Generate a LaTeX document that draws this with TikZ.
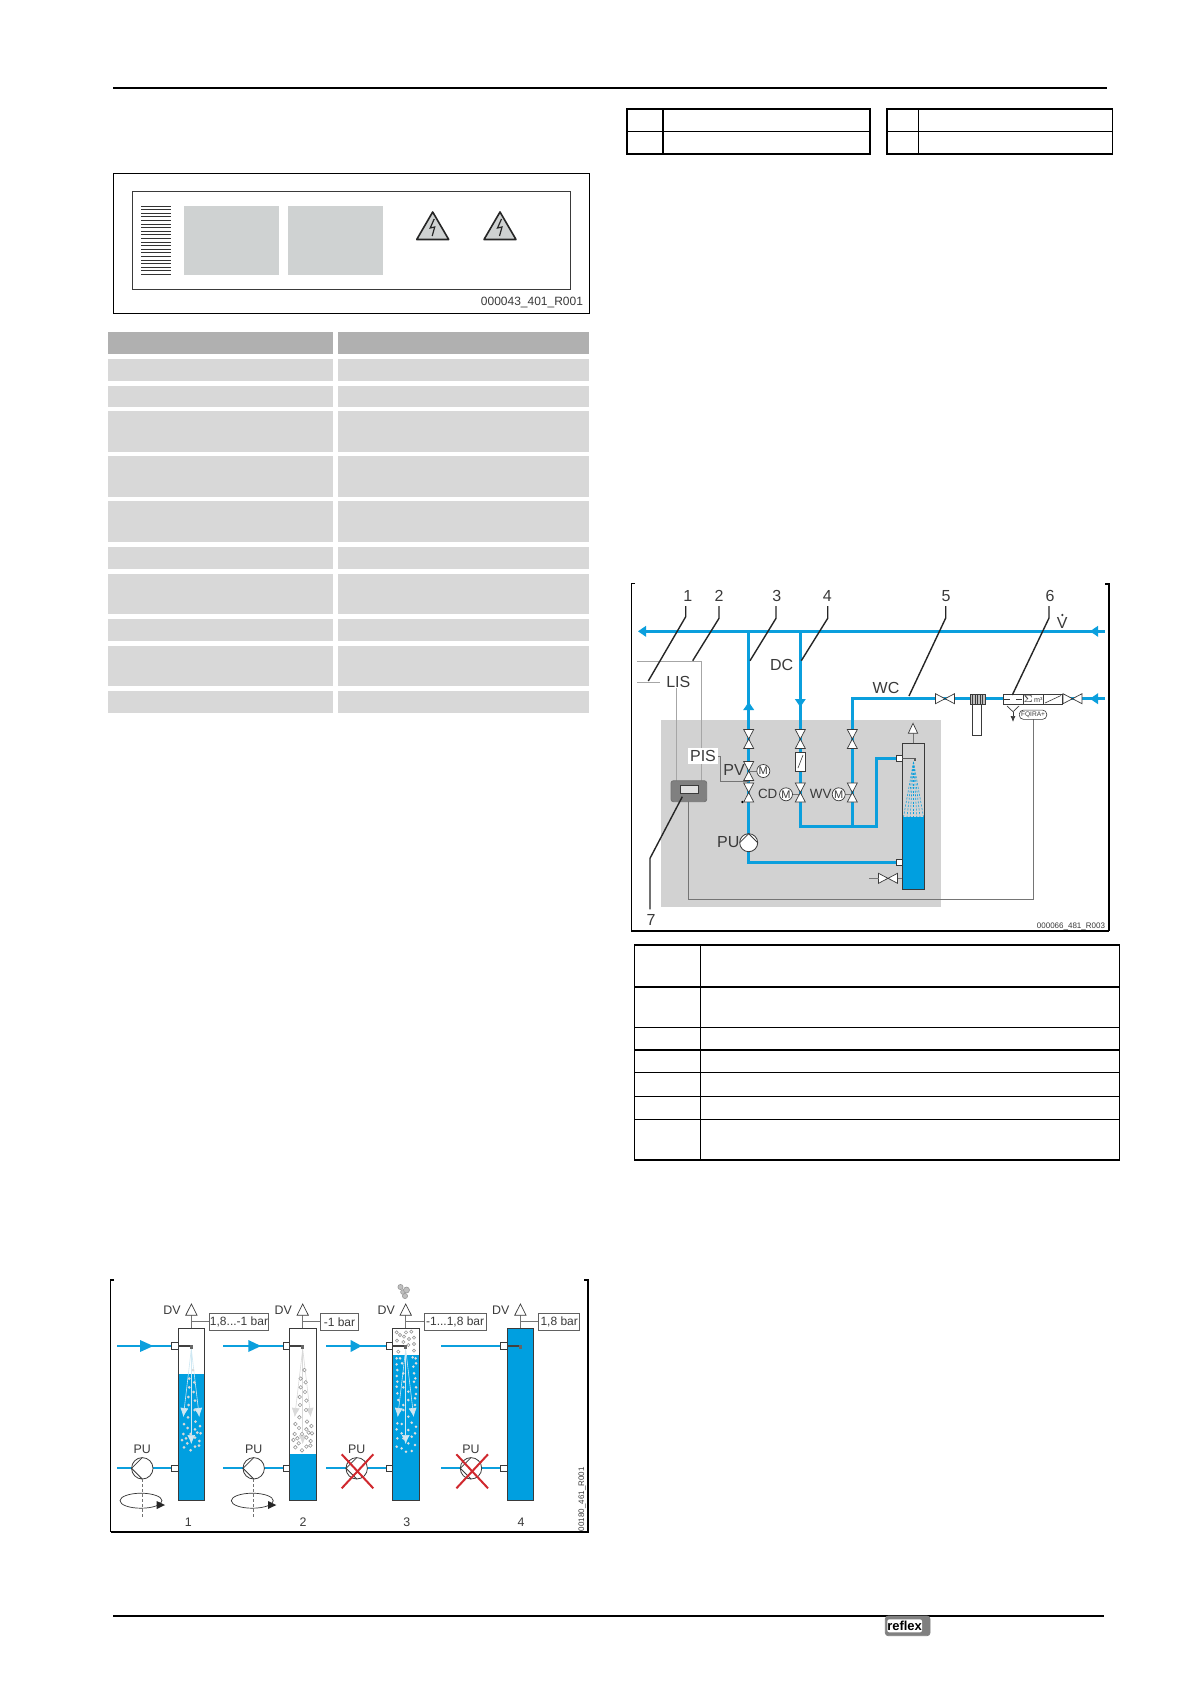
\documentclass[tikz,border=0pt]{standalone}
\usepackage{fontspec}
\setmainfont{Liberation Sans}
\usetikzlibrary{arrows.meta}
\definecolor{pipeblue}{HTML}{0B9FDD}
\definecolor{tankblue}{HTML}{009FE0}
\definecolor{labelgrey}{HTML}{CFD2D2}
\definecolor{rowgrey}{HTML}{D8D8D8}
\definecolor{headgrey}{HTML}{B0B0B0}
\definecolor{unitgrey}{HTML}{D2D2D2}
\definecolor{inkgrey}{HTML}{3A3A3A}
\definecolor{crossred}{HTML}{D0282E}
\definecolor{sprayline}{HTML}{CFE8F3}
\tikzset{
  pipe/.style={pipeblue,line width=1.5pt},
  thinpipe/.style={pipeblue,line width=1.1pt},
  signal/.style={inkgrey!70,line width=0.45pt},
  paleline/.style={black!35,line width=0.4pt},
  leader/.style={black!85,line width=0.7pt},
  frameline/.style={black,line width=0.6pt},
  frameheavy/.style={black,line width=0.9pt},
  tblthick/.style={black,line width=0.9pt},
  tblthin/.style={black,line width=0.5pt},
  fig/.style={inner sep=0pt,outer sep=0pt,text=inkgrey,font=\fontsize{8}{9}\selectfont},
  small/.style={fig,font=\fontsize{6.2}{7}\selectfont},
  partno/.style={fig,font=\fontsize{4}{5}\selectfont},
  pressbox/.style={draw=inkgrey!80,line width=0.4pt,fill=white,inner sep=0pt,minimum height=8.5pt,font=\fontsize{6}{7}\selectfont,text=inkgrey},
  vvalve/.pic={\draw[inkgrey,line width=0.35pt,fill=white] (-5,-9.5) -- (5,-9.5) -- (-5,9.5) -- (5,9.5) -- cycle;},
  hvalve/.pic={\draw[inkgrey,line width=0.35pt,fill=white] (-9.5,-5) -- (-9.5,5) -- (9.5,-5) -- (9.5,5) -- cycle;},
  bluehead/.pic={\fill[pipeblue] (0,0) -- (8,-5.5) -- (8,5.5) -- cycle;},
  pumpsym/.pic={\draw[inkgrey,line width=0.4pt,fill=white] (0,0) circle (\pumpr);
    \draw[inkgrey,line width=0.4pt] (0,-\pumpr) -- (-\pumpr,0) -- (0,\pumpr);},
  motor/.pic={\draw[inkgrey,line width=0.35pt,fill=white] (0,0) circle (6.5);
    \node[fig,font=\fontsize{5.5}{6}\selectfont] (mlabel) at (0,0) {M};},
}
\newcommand{\pumpr}{9}
\begin{document}
\begin{tikzpicture}[x=0.5pt,y=-0.5pt]
  \useasboundingbox (0,0) rectangle (1191,1685);
  \fill[white] (0,0) rectangle (1191,1685);
  % page rules
  \draw[black,line width=1pt] (113,87.7) -- (1106.7,87.7);
  \draw[black,line width=1pt] (113.3,1615.7) -- (1104,1615.7);
  % rating plate
  \draw[black,line width=0.5pt] (113.5,173.3) rectangle (589,313);
  \draw[inkgrey,line width=0.5pt] (132,192) rectangle (570,289);
  \foreach \y in {206,209.6,...,277.5} \draw[black!80,line width=0.45pt] (141,\y) -- (171,\y);
  \fill[labelgrey] (184,206) rectangle (278.5,275);
  \fill[labelgrey] (288,206) rectangle (383,275);
  \foreach \x in {432.7,500} {
    \draw[black!85,line width=0.8pt,fill=labelgrey,line join=round] (\x,212) -- (\x+16,239.5) -- (\x-16,239.5) -- cycle;
    \draw[black!85,line width=0.6pt] (\x+1.5,219) -- (\x-2.5,228) -- (\x+2,227) -- (\x-0.5,236);
  }
  \node[fig,font=\fontsize{6}{7}\selectfont,anchor=east] (plateno) at (583,302.5) {000043\_401\_R001};
  % grey table
  \foreach \t/\b [count=\i] in {359/381,386/407,411/452,456/497,501/542,547/569,574/614,619/641,646/686,691/713} {
    \fill[rowgrey] (108,\t) rectangle (333,\b);
    \fill[rowgrey] (338,\t) rectangle (589,\b);
  }
  \fill[headgrey] (108,332) rectangle (333,353.7);
  \fill[headgrey] (338,332) rectangle (589,353.7);
  % two small tables
  \draw[black,line width=0.8pt] (626.7,109) rectangle (870,154);
  \draw[tblthin] (626.7,131.3) -- (870,131.3);
  \draw[black,line width=0.8pt] (663,109) -- (663,154);
  \draw[black,line width=0.8pt] (886.7,109) rectangle (1112.3,154);
  \draw[tblthin] (886.7,131.3) -- (1112.3,131.3);
  \draw[tblthin] (918.3,109) -- (918.3,154);
  % schematic
  \fill[unitgrey] (660.7,719.7) rectangle (940.7,907);
  \draw[frameline] (635,583.7) -- (631.7,583.7) -- (631.7,931) -- (1109,931);
  \draw[frameheavy] (1109,931) -- (1109,583.7) -- (1105,583.7);
  % pipes
  \draw[pipe] (640,631.3) -- (1105,631.3);
  \draw[pipe] (748.7,631.3) -- (748.7,862.7) -- (897,862.7);
  \draw[pipe] (800.3,631.3) -- (800.3,826.7) -- (876.7,826.7) -- (876.7,758.3) -- (897,758.3);
  \draw[pipe] (852.3,826.7) -- (852.3,698.7) -- (1105,698.7);
  \pic at (638,631.3) {bluehead};
  \pic at (1090,631.3) {bluehead};
  \pic at (1090,698.7) {bluehead};
  \pic[rotate=-90] at (748.7,702) {bluehead};
  \pic[rotate=90] at (800.3,707) {bluehead};
  % signal lines
  \draw[paleline] (637.3,661) -- (701.3,661) -- (701.3,781);
  \draw[paleline] (637.3,682.3) -- (660,682.3);
  \draw[paleline] (676.7,688) -- (676.7,781);
  \draw[signal] (716.7,756) -- (720.3,756) -- (720.3,781.3) -- (748.7,781.3);
  \draw[signal] (1033.3,719) -- (1033.3,899.3) -- (688.7,899.3) -- (688.7,801);
  \draw[signal] (750,771) -- (763,771);
  \draw[signal] (786,794.3) -- (800,794.3);
  \draw[signal] (838.7,794.3) -- (852,794.3);
  % valves
  \foreach \x in {748.7,800.3,852.3} \pic at (\x,739) {vvalve};
  \foreach \x in {748.7,800.3,852.3} \pic at (\x,792.5) {vvalve};
  \pic at (748.7,771) {vvalve};
  \pic at (945,698.7) {hvalve};
  \pic at (1072.5,698.7) {hvalve};
  \pic at (888,878.3) {hvalve};
  \draw[signal] (869.3,878.3) -- (878.5,878.3);
  \draw[signal] (897.5,878.3) -- (902.3,878.3);
  \fill[black] (742.3,802) circle (1.3);
  \pic at (763.3,771) {motor};
  \pic at (786,794.3) {motor};
  \pic at (838.7,794.3) {motor};
  \draw[inkgrey,line width=0.35pt,fill=white] (795.7,752) rectangle (805.7,771);
  \draw[inkgrey,line width=0.3pt] (798,768) -- (803,755);
  \pic[rotate=-90] at (748.7,842.7) {pumpsym};
  % controller
  \draw[black!55,line width=0.4pt,fill=black!50,rounded corners=1.2pt] (671,780.7) rectangle (706.7,801.7);
  \draw[inkgrey,line width=0.5pt,fill=black!12] (680,785) rectangle (698.3,793.3);
  % tank
  \fill[tankblue] (902.3,817.3) rectangle (924.3,889.3);
  \draw[inkgrey,line width=0.4pt] (902.3,743.3) rectangle (924.3,889.3);
  \foreach \dx in {-10,-6.5,-3.3,0,3.3,6.5,10}
    \draw[pipeblue,line width=0.3pt,dash pattern=on 1pt off 0.8pt] (913.5,762) -- (913.5+\dx,817);
  \draw[inkgrey,line width=0.4pt,fill=white] (896.7,755.7) rectangle (902.3,761);
  \draw[inkgrey,line width=0.4pt,fill=white] (896.7,859.7) rectangle (902.3,865.7);
  \draw[black!65,line width=0.6pt] (902.3,758.7) -- (915,758.7) -- (915,761);
  \draw[signal] (913,743.3) -- (913,733.3);
  \draw[inkgrey,line width=0.35pt,fill=white] (913,723.3) -- (917.7,733.3) -- (908.3,733.3) -- cycle;
  % filter and make-up group
  \draw[inkgrey,line width=0.35pt,fill=white] (972.7,704) rectangle (981.7,735);
  \draw[inkgrey,line width=0.35pt,fill=black!25] (970,694.3) rectangle (985,704.3);
  \foreach \x in {972.5,975,...,983} \draw[inkgrey,line width=0.25pt] (\x,694.3) -- (\x,704.3);
  \draw[inkgrey,line width=0.35pt,fill=white] (1003.3,694.3) rectangle (1062.7,704.3);
  \draw[inkgrey,line width=0.35pt] (1023,694.3) -- (1023,704.3);
  \draw[inkgrey,line width=0.35pt] (1043,694.3) -- (1043,704.3);
  \draw[inkgrey,line width=0.3pt,dashed] (1004,699) -- (1023,699);
  \draw[inkgrey,line width=0.3pt] (1045,703) -- (1061,695.5);
  \node[fig,font=\fontsize{3.6}{4}\selectfont] (meter) at (1033,699.3) {$\Sigma$\,m³};
  \draw[inkgrey,line width=0.35pt] (1007,706) -- (1013,711.7) -- (1019,706);
  \draw[inkgrey,line width=0.35pt,-{Latex[length=3pt,width=2.5pt]}] (1013,711.7) -- (1013,722);
  \node[draw=inkgrey,line width=0.3pt,rounded corners=2pt,fill=white,fig,minimum width=13.7pt,minimum height=4.6pt,font=\fontsize{3.3}{4}\selectfont] (fqira) at (1033,714.7) {FQIRA+};
  % labels
  \node[fig,fill=white] (lis) at (678.3,681.7) {LIS};
  \node[fig,fill=white,inner sep=1pt] (pis) at (703,756) {PIS};
  \node[fig] (dc) at (781.7,665) {DC};
  \node[fig] (wc) at (886,687.7) {WC};
  \node[fig] (pv) at (734,770) {PV};
  \node[fig,font=\fontsize{6.7}{8}\selectfont] (cd) at (767.7,794.3) {CD};
  \node[fig,font=\fontsize{6.7}{8}\selectfont] (wv) at (820.7,794.3) {WV};
  \node[fig] (pu) at (728.3,842) {PU};
  \node[fig] (vdot) at (1062.3,622.5) {V};
  \fill[inkgrey] (1062.3,615) circle (1.3);
  \node[partno,anchor=east] (schemno) at (1105,926) {000066\_481\_R003};
  % numbered leaders
  \node[fig] (n1) at (687.7,596) {1};
  \node[fig] (n2) at (719,596) {2};
  \node[fig] (n3) at (776.7,596) {3};
  \node[fig] (n4) at (827.3,596) {4};
  \node[fig] (n5) at (946,596) {5};
  \node[fig] (n6) at (1050,596) {6};
  \node[fig] (n7) at (651,920) {7};
  \draw[leader] (685.7,606) -- (685.7,616.7) -- (648.3,681);
  \draw[leader] (719,606) -- (719,618.3) -- (692.7,660.7);
  \draw[leader] (776,606) -- (776,618.3) -- (750,660.7);
  \draw[leader] (827.7,606) -- (827.7,618.3) -- (801.3,660.7);
  \draw[leader] (945.7,606) -- (945.7,618) -- (909,696);
  \draw[leader] (1049,606) -- (1049,618) -- (1012.3,695);
  \draw[leader] (650,909.3) -- (650,858.3) -- (682.3,796.7);
  % table under the schematic
  \draw[tblthin] (634.3,945) rectangle (1119.7,1160);
  \draw[tblthin] (700,945) -- (700,1160);
  \foreach \y in {945,986.7,1049.7,1160} \draw[tblthick] (634.3,\y) -- (1119.7,\y);
  \foreach \y in {1027,1072,1096,1119} \draw[tblthin] (634.3,\y) -- (1119.7,\y);
  % degassing stages
  \draw[frameline] (114,1280) -- (110.7,1280) -- (110.7,1531.7);
  \draw[frameheavy] (110.7,1531.7) -- (587.7,1531.7) -- (587.7,1280) -- (584,1280);
  \renewcommand{\pumpr}{10.7}
  \fill[tankblue] (178,1374) rectangle (204.7,1500);
  \fill[tankblue] (289.3,1454) rectangle (316,1500);
  \fill[tankblue] (392.3,1355) rectangle (419,1500);
  \fill[tankblue] (507,1328.3) rectangle (533.7,1500);
  % spray cones with bubbles
  \foreach \tx/\col in {191.3/sprayline,302.7/black!15,405.7/sprayline} {
    \foreach \ex/\ey in {-8/1417,8/1417,0/1444}
      \draw[\col,line width=0.3pt,-{Latex[length=4.5pt,width=4pt]}] (\tx,1349) -- (\tx+\ex,\ey);
  }
  \foreach \dx/\dy in {1.7/22.7,-2/31.3,3/35,-2/40,2.3/44.7,-3/49.7,3.7/53.3,-2.7/57.7,3.3/62.7,-3.3/70,4.3/74.3,-7.3/76.7,8.7/78.7,-3.7/80.7,3.7/82,-8/86.7,-.7/86.7,6/85.3,9.3/86,-9.3/92.7,-5.3/91,3.7/90.3,8/93.7,-4/96,3.7/99.3,-7.3/100,-.7/103,7.7/98.3} {
    \fill[black!15] (191.3+\dx,1347.3+\dy) circle (1.5);
    \draw[black!40,line width=0.3pt,fill=white] (302.7+\dx,1347.3+\dy) circle (1.8);
  }
  \foreach \a/\b in {170/187,180/195,198/187,214/185,192/200,207/207,222/203,171/212,190/216,222/222,205/225,175/245,222/242}
    \draw[black!40,line width=0.3pt,fill=white] ({340+\a/3},{1270+\b/3}) circle (1.6);
  \foreach \a/\b in {170/265,180/265,218/262,227/265,170/283,186/280,220/290,228/280,172/300,170/318,190/310,222/310,226/325,172/335,192/335,222/335,170/350,190/352,228/352,172/370,205/365,228/372,225/385,175/390,190/405,205/390,172/418,225/405,222/420,190/420,205/440,172/460,185/462,215/458,228/470,170/478,205/480,185/490,225/490,172/505,190/505,215/500,170/530,185/535,198/545,225/525,215/543,205/520}
    \fill[black!12] ({340+\a/3},{1270+\b/3}) circle (1.4);
  % tanks, inlet and pump pipes
  \foreach \tx/\from/\px/\nx/\dvx/\bl/\br/\btxt [count=\i] in {
      178/117.3/142.3/188.3/172/209.3/268.7/{1,8...-1 bar},
      289.3/223.3/253.7/303/283.3/320.7/358.3/{-1 bar},
      392.3/326/356.7/406.7/386.3/424/486.3/{-1...1,8 bar},
      507/441/471/521/500.7/538.7/579.7/{1,8 bar}} {
    \draw[inkgrey,line width=0.4pt] (\tx,1328.3) rectangle (\tx+26.7,1500);
    \draw[thinpipe] (\from,1346) -- (\tx-6.3,1346);
    \draw[thinpipe] (\from,1468.3) -- (\tx-6.3,1468.3);
    \draw[inkgrey,line width=0.4pt,fill=white] (\tx-6.3,1342.7) rectangle (\tx,1349.3);
    \draw[inkgrey,line width=0.4pt,fill=white] (\tx-6.3,1465) rectangle (\tx,1471.7);
    \draw[black!75,line width=0.7pt] (\tx,1346) -- (\tx+13.3,1346);
    \fill[black!60] (\tx+11.6,1345) rectangle (\tx+15,1349);
    \pic at (\px,1468.3) {pumpsym};
    \node[small] (pu\i) at (\px,1449) {PU};
    \node[small] (dv\i) at (\dvx,1310.7) {DV};
    \draw[signal] (\tx+13.4,1328.3) -- (\tx+13.4,1315.3);
    \draw[signal] (\tx+13.4,1321.7) -- (\bl,1321.7);
    \draw[inkgrey,line width=0.35pt,fill=white] (\tx+13.4,1304) -- (\tx+19.1,1315.3) -- (\tx+7.7,1315.3) -- cycle;
    \node[pressbox,minimum width={(\br-\bl)*0.5pt}] (bar\i) at ({(\bl+\br)/2},1322.2) {\btxt};
    \node[small] (stage\i) at (\nx,1522.3) {\i};
  }
  % pump rotation
  \foreach \px/\cx in {142.3/141,253.7/252.3} {
    \draw[black!55,line width=0.3pt,dash pattern=on 1.5pt off 1pt] (\px,1479) -- (\px,1517);
    \draw[black!80,line width=0.35pt] (\cx,1500.7) ellipse (21 and 7.5);
    \fill[black!85] (\cx+24,1505) -- (\cx+15.7,1501) -- (\cx+15.7,1509) -- cycle;
  }
  % inlet flow arrows
  \foreach \x/\l in {153.3/13.3,261/12.7,361.7/11} \fill[pipeblue] (\x,1346) -- (\x-\l,1340) -- (\x-\l,1352) -- cycle;
  % pump off
  \foreach \cx in {357.5,472.2} {
    \draw[crossred,line width=1pt] (\cx-15.8,1488.3) -- (\cx+15.8,1454.3);
    \draw[crossred,line width=1pt] (\cx-15.8,1454.3) -- (\cx+15.8,1488.3);
  }
  % gas leaving
  \foreach \cx/\cy/\r in {400.5/1287/2.6,403/1292/2.4,406.5/1290/3,405/1296/2.6}
    \draw[black!40,line width=0.3pt,fill=black!25] (\cx,\cy) circle (\r);
  \node[partno,rotate=90,anchor=west] (stageno) at (582,1531) {00180\_461\_R001};
  % logo
  \draw[black!50,fill=black!50,rounded corners=1.5pt] (885.3,1616) rectangle (930,1635.7);
  \fill[white,rounded corners=1pt] (887.3,1619.3) rectangle (922,1632.3);
  \node[inner sep=0pt,font=\fontsize{6.5}{7}\selectfont\bfseries] (logo) at (904.6,1626) {reflex};
\end{tikzpicture}
\end{document}
